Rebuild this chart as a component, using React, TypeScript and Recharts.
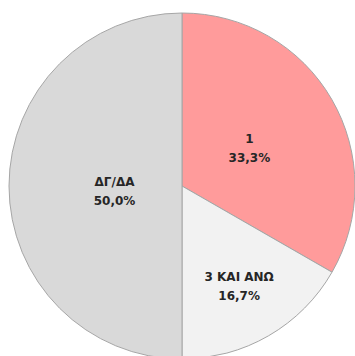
import React from 'react';
import { PieChart, Pie, Cell } from 'recharts';

const categories = ['1', '3 ΚΑΙ ΑΝΩ', 'ΔΓ/ΔΑ'];
const shares = [33.3, 16.7, 50.0];

const COLORS = ['#ff9b9b', '#f2f2f2', '#d9d9d9'];
// how far out each label sits, as a share of the radius, plus a small vertical nudge
const LABEL_POS = [0.45, 0.66, 0.39];
const LABEL_DY = [-4, -4, 0];

const data = categories.map((name, i) => ({ name, value: shares[i] }));

const RADIAN = Math.PI / 180;

const renderLabel = ({ cx, cy, midAngle, outerRadius, index }: any) => {
    const r = outerRadius * LABEL_POS[index];
    const x = cx + r * Math.cos(-midAngle * RADIAN);
    const y = cy + r * Math.sin(-midAngle * RADIAN);
    return (
        <text
            x={x}
            y={y}
            textAnchor="middle"
            fill="#262626"
            fontSize={12}
            fontWeight="bold"
            fontFamily="'DejaVu Sans', sans-serif"
        >
            <tspan x={x} dy={LABEL_DY[index]}>{data[index].name}</tspan>
            <tspan x={x} dy={19}>{data[index].value.toFixed(1).replace('.', ',')}%</tspan>
        </text>
    );
};

export default function App() {
    return (
        <div style={{ position: 'absolute', left: 0, top: 0, width: 355, height: 356, background: '#fff' }}>
            <PieChart width={355} height={356} margin={{ top: 0, right: 0, bottom: 0, left: 0 }}>
                <Pie
                    data={data}
                    dataKey="value"
                    cx={182}
                    cy={186}
                    outerRadius={173}
                    startAngle={90}
                    endAngle={-270}
                    stroke="#a6a6a6"
                    strokeWidth={1}
                    label={renderLabel}
                    labelLine={false}
                    isAnimationActive={false}
                >
                    {data.map((entry, index) => (
                        <Cell key={`cell-${index}`} fill={COLORS[index]} />
                    ))}
                </Pie>
            </PieChart>
        </div>
    );
}
